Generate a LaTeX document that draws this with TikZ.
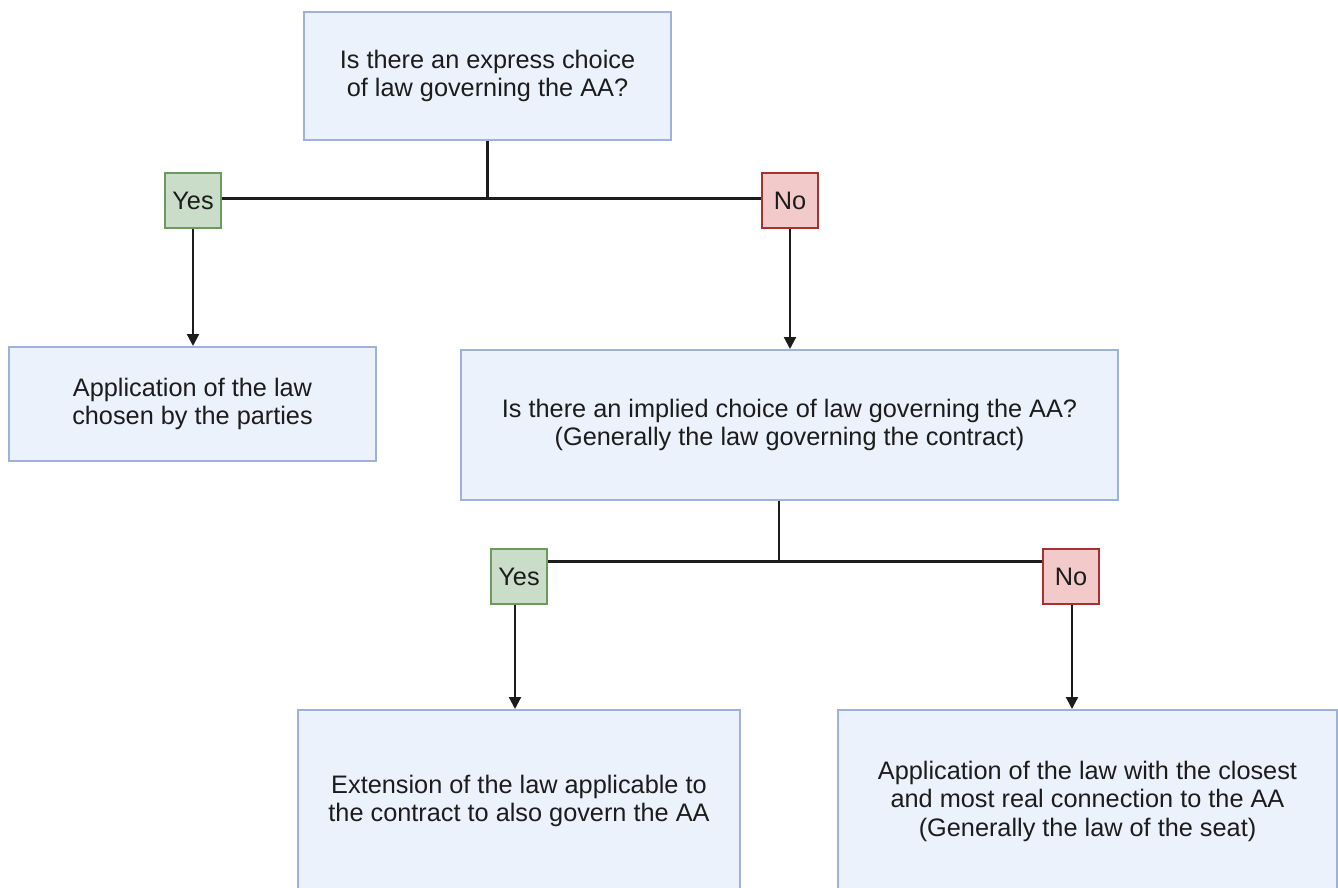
\documentclass[tikz,border=0pt]{standalone}
\usepackage{fontspec}
\setmainfont{Liberation Sans}
\usetikzlibrary{arrows.meta,calc}
\definecolor{boxfill}{HTML}{EBF2FB}
\definecolor{boxdraw}{HTML}{9DB2DA}
\definecolor{yesfill}{HTML}{C9DDC9}
\definecolor{yesdraw}{HTML}{6A9A5C}
\definecolor{nofill}{HTML}{F3CACA}
\definecolor{nodraw}{HTML}{A8302F}
\definecolor{ink}{HTML}{1C1C1C}
\begin{document}
\begin{tikzpicture}[x=1pt,y=-1pt,
  every node/.style={font=\fontsize{25.3}{28.5}\selectfont, text=ink},
  qbox/.style={draw=boxdraw, fill=boxfill, line width=2pt, align=center, inner sep=0pt},
  yesbox/.style={draw=yesdraw, fill=yesfill, line width=2pt, minimum width=56pt, minimum height=55pt, inner sep=0pt},
  nobox/.style={draw=nodraw, fill=nofill, line width=2pt, minimum width=56pt, minimum height=55pt, inner sep=0pt},
  link/.style={draw=ink, line width=2.2pt},
  arr/.style={link, -{Triangle[width=12pt,length=12pt]}}]
\useasboundingbox (0,0) rectangle (1338,888);
\clip (0,0) rectangle (1338,888);
\node[qbox, minimum width=367pt, minimum height=128pt] (top) at (487.5,76) {Is there an express choice\\of law governing the AA?};
\node[yesbox] (y1) at (193,200.5) {Yes};
\node[nobox] (n1) at (790,200.5) {No};
\node[qbox, minimum width=367pt, minimum height=114pt] (left) at (192.5,404) {Application of the law\\chosen by the parties};
\node[qbox, minimum width=657pt, minimum height=150pt] (mid) at (789.5,425) {Is there an implied choice of law governing the AA?\\(Generally the law governing the contract)};
\node[yesbox] (y2) at (519,576.5) {Yes};
\node[nobox] (n2) at (1071,576.5) {No};
\node[qbox, minimum width=442pt, minimum height=182pt] (bl) at (519,801) {Extension of the law applicable to\\the contract to also govern the AA};
\node[qbox, minimum width=499pt, minimum height=182pt] (br) at (1087.5,801) {Application of the law with the closest\\and most real connection to the AA\\(Generally the law of the seat)};
\coordinate (j1) at ([yshift=2pt]top.south |- y1.east);
\coordinate (j2) at ([xshift=-10.5pt,yshift=15pt]mid.south |- y2.east);
\draw[link] (top.south) -- (j1);
\draw[link] ([yshift=2pt]y1.east) -- ([yshift=2pt]n1.west);
\draw[link] ([xshift=-10.5pt]mid.south) -- (j2);
\draw[link] ([yshift=15pt]y2.east) -- ([yshift=15pt]n2.west);
\draw[arr] (y1.south) -- (y1.south |- left.north);
\draw[arr] (n1.south) -- (n1.south |- mid.north);
\draw[arr] ([xshift=-4pt]y2.south) -- ([xshift=-4pt]y2.south |- bl.north);
\draw[arr] ([xshift=1pt]n2.south) -- ([xshift=1pt]n2.south |- br.north);
\end{tikzpicture}
\end{document}
